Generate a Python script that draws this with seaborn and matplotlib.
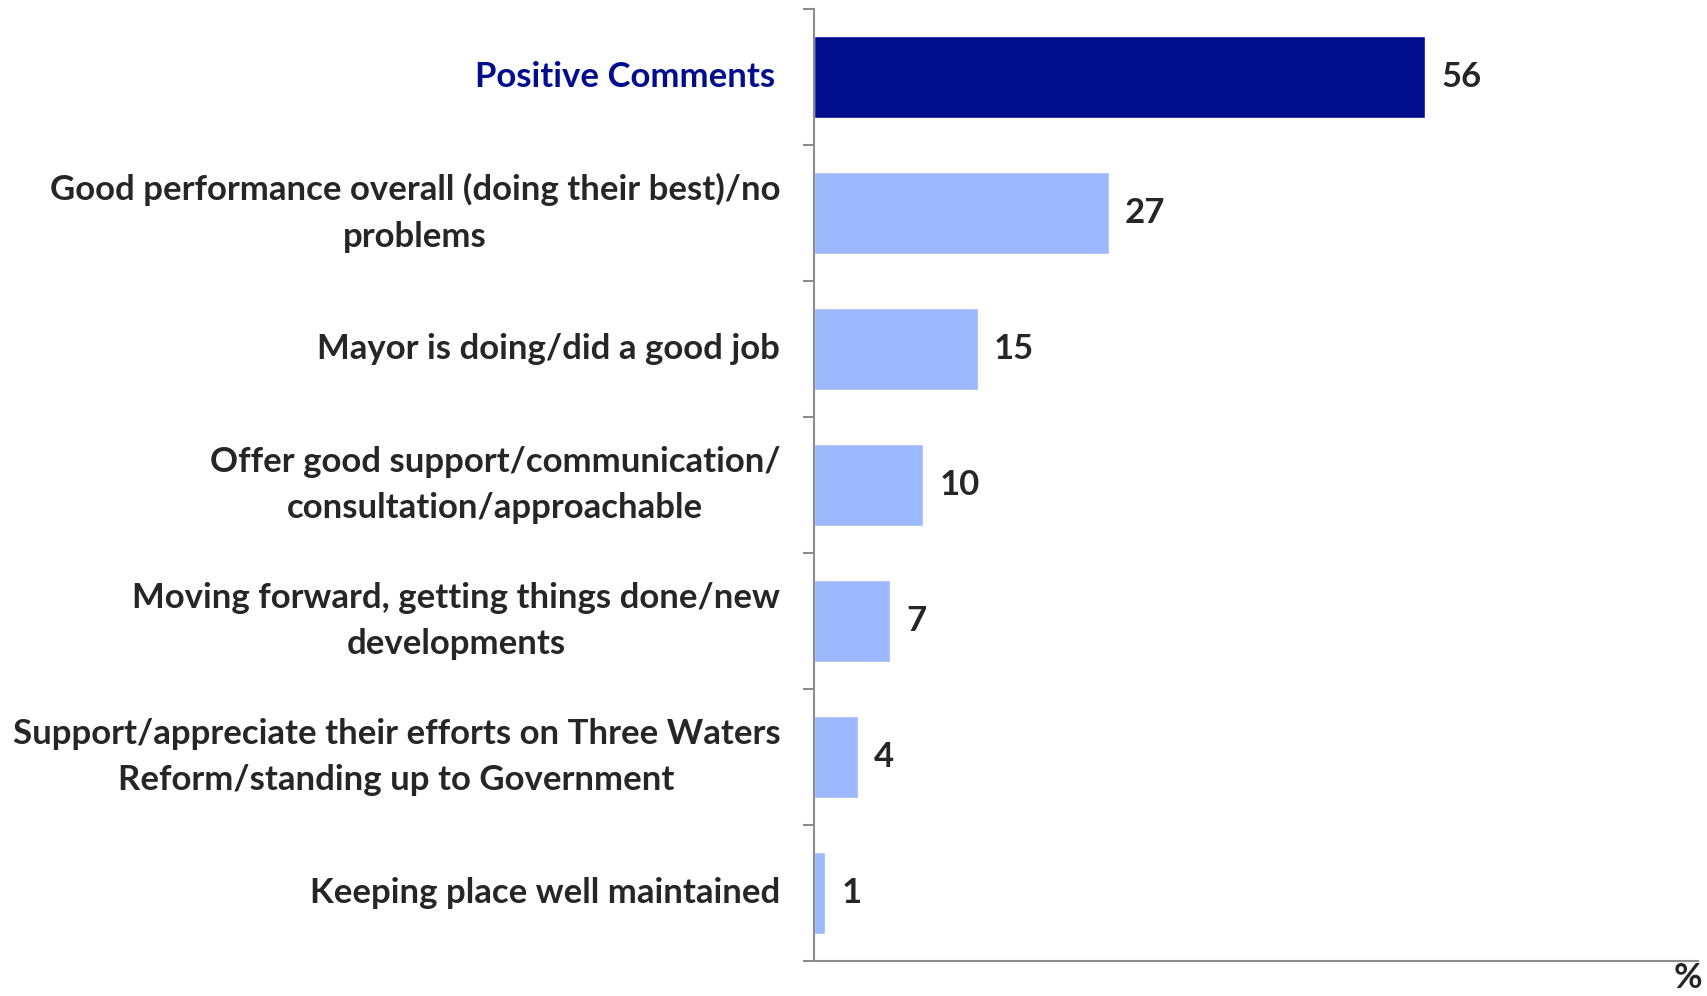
import matplotlib
matplotlib.use("Agg")
import matplotlib.pyplot as plt
import seaborn as sns
import pandas as pd

categories = [
    "Positive Comments",
    "Good performance overall (doing their best)/no\nproblems",
    "Mayor is doing/did a good job",
    "Offer good support/communication/\nconsultation/approachable",
    "Moving forward, getting things done/new\ndevelopments",
    "Support/appreciate their efforts on Three Waters\nReform/standing up to Government",
    "Keeping place well maintained",
]
values = [56, 27, 15, 10, 7, 4, 1]

df = pd.DataFrame({"Comment": categories, "Percent": values})

navy = "#000E8E"
light = "#9DB9FF"
text_col = "#262626"
colors = [navy] + [light] * (len(categories) - 1)

sns.set_style("white")
plt.rcParams["font.family"] = ["Lato", "DejaVu Sans"]

fig = plt.figure(figsize=(17.07, 9.96), dpi=100)
ax = fig.add_axes([0.4769, 0.0351, 0.5178, 0.9559])

sns.barplot(data=df, x="Percent", y="Comment", hue="Comment", palette=colors,
            legend=False, orient="h", width=0.6, saturation=1, ax=ax)

ax.set_xlim(0, 81)
ax.set_ylim(len(categories) - 0.5, -0.5)

# value labels
for i, v in enumerate(values):
    ax.text(v + 1.5, i, str(v), va="center", ha="left", fontsize=25,
            fontweight="bold", color=text_col)

# category labels
ax.set_yticks(range(len(categories)))
ax.set_yticklabels([])
ax.tick_params(axis="y", length=0)
for i, c in enumerate(categories):
    xoff = -3.6 if i == 0 else -3.1
    ax.text(xoff, i, c, ha="right", va="center", multialignment="center",
            fontsize=25, fontweight="bold", linespacing=1.55,
            color=navy if i == 0 else text_col)

# boundary ticks between categories
ax.set_yticks([k - 0.5 for k in range(len(categories) + 1)], minor=True)
ax.tick_params(axis="y", which="minor", length=8, width=1.5, color="#8C8C8C",
               direction="out", left=True)
ax.set_xticks([])
ax.set_xlabel("")
ax.set_ylabel("")

for s in ["top", "right"]:
    ax.spines[s].set_visible(False)
for s in ["left", "bottom"]:
    ax.spines[s].set_color("#8C8C8C")
    ax.spines[s].set_linewidth(1.5)

fig.text(0.997, 0.002, "%", ha="right", va="bottom", fontsize=25,
         fontweight="bold", color=text_col)

fig.savefig("out.png", dpi=100)
